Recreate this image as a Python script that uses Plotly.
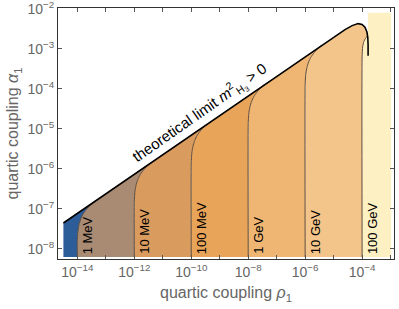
import plotly.graph_objects as go

# ---------------- data (log10 values) ----------------
x_tick_exp = [-14, -13, -12, -11, -10, -9, -8, -7, -6, -5, -4, -3]
x_tick_labeled = [-14, -12, -10, -8, -6, -4]
y_tick_exp = [-8, -7, -6, -5, -4, -3, -2]

# theoretical limit curve m^2_H3 > 0   (log10 rho1, log10 alpha1)
limit_log_rho = [-14.49, -13.0, -12.0, -10.0, -8.0, -6.0, -5.2, -4.9, -4.6, -4.35, -4.14, -4.0, -3.9, -3.83, -3.80, -3.79, -3.79]
limit_log_alpha = [-7.35, -6.62, -6.13, -5.15, -4.17, -3.19, -2.81, -2.66, -2.52, -2.42, -2.37, -2.39, -2.46, -2.58, -2.72, -2.90, -3.17]

# mass contours: position at the bottom and the limit value at that position
mass_labels = ["1 MeV", "10 MeV", "100 MeV", "1 GeV", "10 GeV", "100 GeV"]
contour_log_rho0 = [-14.0, -12.0, -10.0, -8.0, -6.0]
contour_log_alpha_lim = [-7.11, -6.13, -5.15, -4.17, -3.19]
# shape of the bend of a contour near the limit (offsets in decades)
bend_dx = [0.0, 0.0, 0.02, 0.06, 0.12, 0.20, 0.30, 0.42, 0.55]
bend_dy = [-0.70, -0.70, -0.45, -0.28, -0.14, -0.02, 0.08, 0.18, 0.27]
# the 100 GeV contour (bends into the turning limit curve)
c100_log_rho = [-4.0, -4.0, -3.98, -3.94, -3.88, -3.81]
c100_log_alpha = [-8.2, -3.2, -2.95, -2.82, -2.74, -2.68]

log_alpha_bottom = -8.2
log_rho_left = -14.49
pale_log_rho = [-3.79, -2.98]
pale_log_alpha_top = -2.1

region_colors = ["#2d5d99", "#a98b74", "#da9c5e", "#e8a458", "#efb673", "#f4c58a", "#fdf0c2"]
contour_color = "#5e4d3c"

# ---------------- build curves ----------------
def contour_pts(i):
    xs, ys = [], []
    for k, (dx, dy) in enumerate(zip(bend_dx, bend_dy)):
        xs.append(contour_log_rho0[i] + dx)
        ys.append(log_alpha_bottom if k == 0 else contour_log_alpha_lim[i] + dy)
    return xs, ys

contours = [contour_pts(i) for i in range(len(contour_log_rho0))]
contours.append((c100_log_rho, c100_log_alpha))

def P(v):
    return [10 ** a for a in v]

fig = go.Figure()

def add_fill(xs, ys, color):
    fig.add_trace(go.Scatter(x=P(xs), y=P(ys), mode="lines", fill="toself",
                             fillcolor=color, line=dict(width=0), hoverinfo="skip",
                             showlegend=False))

# blue region (left of 1 MeV)
cx, cy = contours[0]
add_fill([log_rho_left, log_rho_left] + cx[::-1],
         [log_alpha_bottom, limit_log_alpha[0]] + cy[::-1], region_colors[0])

# regions between consecutive contours
for i in range(4):
    ax, ay = contours[i]
    bx, by = contours[i + 1]
    add_fill(ax + bx[::-1], ay + by[::-1], region_colors[i + 1])

# 10 GeV - 100 GeV region with the turning limit
ax, ay = contours[4]
bx, by = contours[5]
mid = [(x, y) for x, y in zip(limit_log_rho, limit_log_alpha) if ax[-1] < x < -3.83]
mid_x = [m[0] for m in mid]
mid_y = [m[1] for m in mid]
add_fill(ax + mid_x + bx[::-1], ay + mid_y + by[::-1], region_colors[5])

# pale region above 100 GeV
add_fill(bx + [pale_log_rho[0], pale_log_rho[0], pale_log_rho[1], pale_log_rho[1]],
         by + [by[-1], pale_log_alpha_top, pale_log_alpha_top, log_alpha_bottom],
         region_colors[6])

# contour lines
for xs, ys in contours:
    fig.add_trace(go.Scatter(x=P(xs), y=P(ys), mode="lines",
                             line=dict(color=contour_color, width=1, shape="spline", smoothing=0.5),
                             hoverinfo="skip", showlegend=False))

# limit line
fig.add_trace(go.Scatter(x=P(limit_log_rho), y=P(limit_log_alpha), mode="lines",
                         line=dict(color="black", width=1.6),
                         hoverinfo="skip", showlegend=False))

font = "Liberation Sans, Arial, sans-serif"

annotations = []
label_rho = contour_log_rho0 + [c100_log_rho[0]]
for lab, xr in zip(mass_labels, label_rho):
    annotations.append(dict(x=xr, y=log_alpha_bottom, xref="x", yref="y", text=lab,
                            textangle=-90, showarrow=False, xanchor="center", yanchor="bottom",
                            xshift=10, yshift=1, font=dict(family=font, size=13, color="black")))
annotations.append(dict(x=-9.68, y=-4.6, xref="x", yref="y",
                        text="theoretical limit <i>m</i><sup>2</sup><sub>H<sub>3</sub></sub> > 0",
                        textangle=-35, showarrow=False, xanchor="center", yanchor="middle",
                        font=dict(family=font, size=15, color="black")))

fig.update_layout(
    width=399, height=309,
    margin=dict(l=58, r=5, t=8, b=50),
    plot_bgcolor="white", paper_bgcolor="white",
    annotations=annotations,
    font=dict(family=font),
)
fig.update_xaxes(
    type="log", range=[-14.68, -2.88], automargin=False,
    tickvals=[10 ** e for e in x_tick_exp],
    ticktext=[("10<sup>\u2212%d</sup>" % (-e)) if e in x_tick_labeled else "" for e in x_tick_exp],
    ticks="inside", ticklen=4, tickcolor="#555", showline=True, linecolor="#333", linewidth=1,
    mirror="ticks", showgrid=False, zeroline=False, ticklabeloverflow="allow",
    tickfont=dict(family=font, size=14, color="#666"),
    title=dict(text="quartic coupling <i>\u03c1</i><sub>1</sub>", font=dict(family=font, size=16, color="#666"),
               standoff=8),
)
fig.update_yaxes(
    type="log", range=[-8.25, -1.98], automargin=False,
    tickvals=[10 ** e for e in y_tick_exp],
    ticktext=["10<sup>\u2212%d</sup>" % (-e) for e in y_tick_exp],
    ticks="inside", ticklen=4, tickcolor="#555", showline=True, linecolor="#333", linewidth=1,
    mirror="ticks", showgrid=False, zeroline=False, ticklabeloverflow="allow",
    tickfont=dict(family=font, size=14, color="#666"),
    title=dict(text="quartic coupling <i>\u03b1</i><sub>1</sub>", font=dict(family=font, size=16, color="#666"),
               standoff=4),
)

fig.write_html("out.html", config={"displayModeBar": False},
               post_script="document.body.style.margin='0px';document.body.style.overflow='hidden';")
